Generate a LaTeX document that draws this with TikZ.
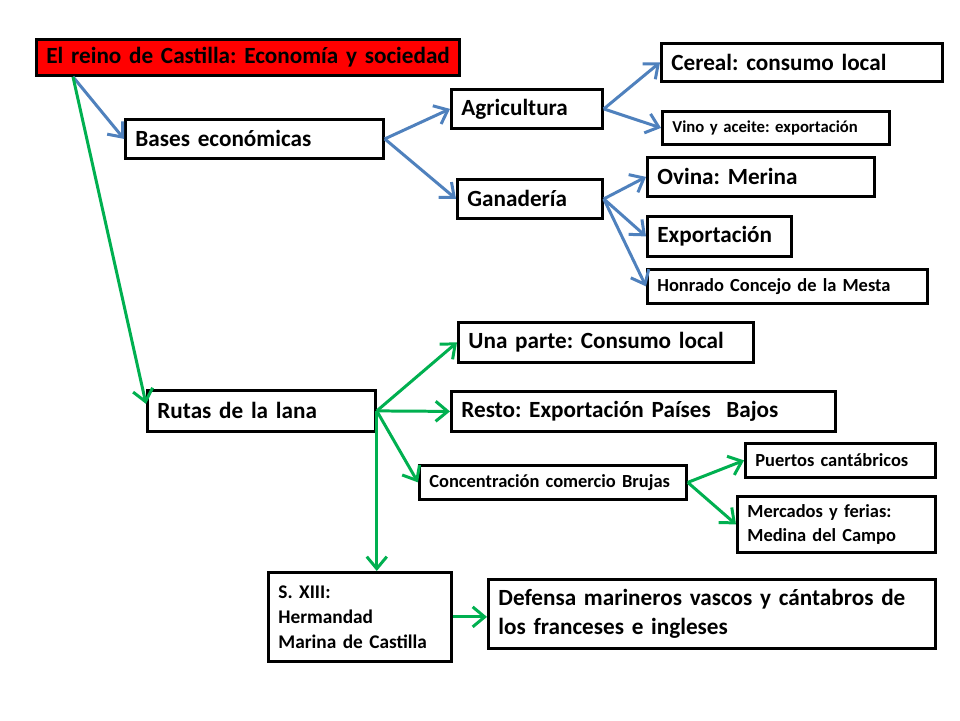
\documentclass[tikz,border=0pt]{standalone}
\usepackage{fontspec}
\setmainfont{Carlito}[WordSpace=0.7]
\usetikzlibrary{arrows.meta}
\definecolor{arrowblue}{HTML}{4F81BD}
\definecolor{arrowgreen}{HTML}{00B050}
\frenchspacing

\begin{document}
\begin{tikzpicture}[x=0.02cm, y=-0.02cm,
    box/.style={draw, line width=1.6pt, anchor=north west, inner xsep=0.2cm, inner ysep=0pt,
        align=left, font=\bfseries\fontsize{13.2}{16}\selectfont},
    smallbox/.style={box, font=\bfseries\fontsize{10.5}{13.6}\selectfont},
    bluearrow/.style={arrowblue, line width=1.7pt, -{Straight Barb[length=2.4mm, width=4mm]}},
    greenarrow/.style={bluearrow, arrowgreen}]
    % Page
    \fill[white] (0,0) rectangle (960,720);
    \useasboundingbox (0,0) rectangle (960,720);

    % Title
    \node[box, fill=red, text width=8.06cm, minimum height=0.72cm] (reino) at (35,38) {\mbox{El reino de Castilla: Economía y sociedad}};

    % Bases economicas
    \node[box, text width=4.76cm, minimum height=0.78cm] (bases) at (124,118) {Bases económicas};
    \node[box, text width=2.62cm, minimum height=0.78cm] (agri) at (450,88) {Agricultura};
    \node[box, text width=2.50cm, minimum height=0.78cm] (gana) at (456,178) {Ganadería};
    \node[box, text width=5.22cm, minimum height=0.76cm] (cereal) at (660,42) {Cereal: consumo local};
    \node[smallbox, font=\bfseries\fontsize{9.5}{12}\selectfont, text width=4.14cm, minimum height=0.66cm] (vino) at (661,110) {Vino y aceite: exportación};
    \node[box, text width=4.14cm, minimum height=0.78cm] (ovina) at (646,156) {Ovina: Merina};
    \node[box, text width=2.48cm, minimum height=0.80cm] (expo) at (646,215) {Exportación};
    \node[smallbox, text width=5.20cm, minimum height=0.68cm] (mesta) at (646,268) {Honrado Concejo de la Mesta};

    % Rutas de la lana
    \node[box, text width=4.16cm, minimum height=0.82cm] (rutas) at (146,389) {Rutas de la lana};
    \node[box, text width=5.50cm, minimum height=0.80cm] (una) at (457,321) {Una parte: Consumo local};
    \node[box, text width=7.28cm, minimum height=0.80cm] (resto) at (450,390) {Resto: Exportación Países~ Bajos};
    \node[smallbox, text width=4.94cm, minimum height=0.68cm] (brujas) at (418,464) {Concentración comercio Brujas};
    \node[smallbox, text width=3.40cm, minimum height=0.68cm] (puertos) at (744,442) {Puertos cantábricos};
    \node[smallbox, text width=3.56cm, minimum height=1.12cm] (mercados) at (736,495) {Mercados y ferias:\\Medina del Campo};
    \node[smallbox, font=\bfseries\fontsize{11}{14.2}\selectfont, text width=3.26cm, minimum height=1.78cm] (hermandad) at (267,571) {S. XIII:\\Hermandad\\Marina de Castilla};
    \node[box, font=\bfseries\fontsize{13.2}{16.5}\selectfont, text width=8.54cm, minimum height=1.38cm] (defensa) at (487,578) {Defensa marineros vascos y cántabros de\\los franceses e ingleses};

    % Blue connectors
    \draw[bluearrow] ([xshift=0.76cm]reino.south west) -- (bases.west);
    \draw[bluearrow] (bases.east) -- (agri.west);
    \draw[bluearrow] (bases.east) -- (gana.west);
    \draw[bluearrow] (agri.east) -- (cereal.west);
    \draw[bluearrow] (agri.east) -- (vino.west);
    \draw[bluearrow] (gana.east) -- (ovina.west);
    \draw[bluearrow] (gana.east) -- (expo.west);
    \draw[bluearrow] (gana.east) -- (mesta.west);

    % Green connectors
    \draw[greenarrow] ([xshift=0.76cm]reino.south west) -- ([yshift=0.14cm]rutas.west);
    \draw[greenarrow] (rutas.east) -- (una.west);
    \draw[greenarrow] (rutas.east) -- (resto.west);
    \draw[greenarrow] (rutas.east) -- (brujas.west);
    \draw[greenarrow] (rutas.east) -- (rutas.east |- hermandad.north);
    \draw[greenarrow] (brujas.east) -- (puertos.west);
    \draw[greenarrow] (brujas.east) -- (mercados.west);
    \draw[greenarrow] (hermandad.east) -- (hermandad.east -| defensa.west);
\end{tikzpicture}
\end{document}
